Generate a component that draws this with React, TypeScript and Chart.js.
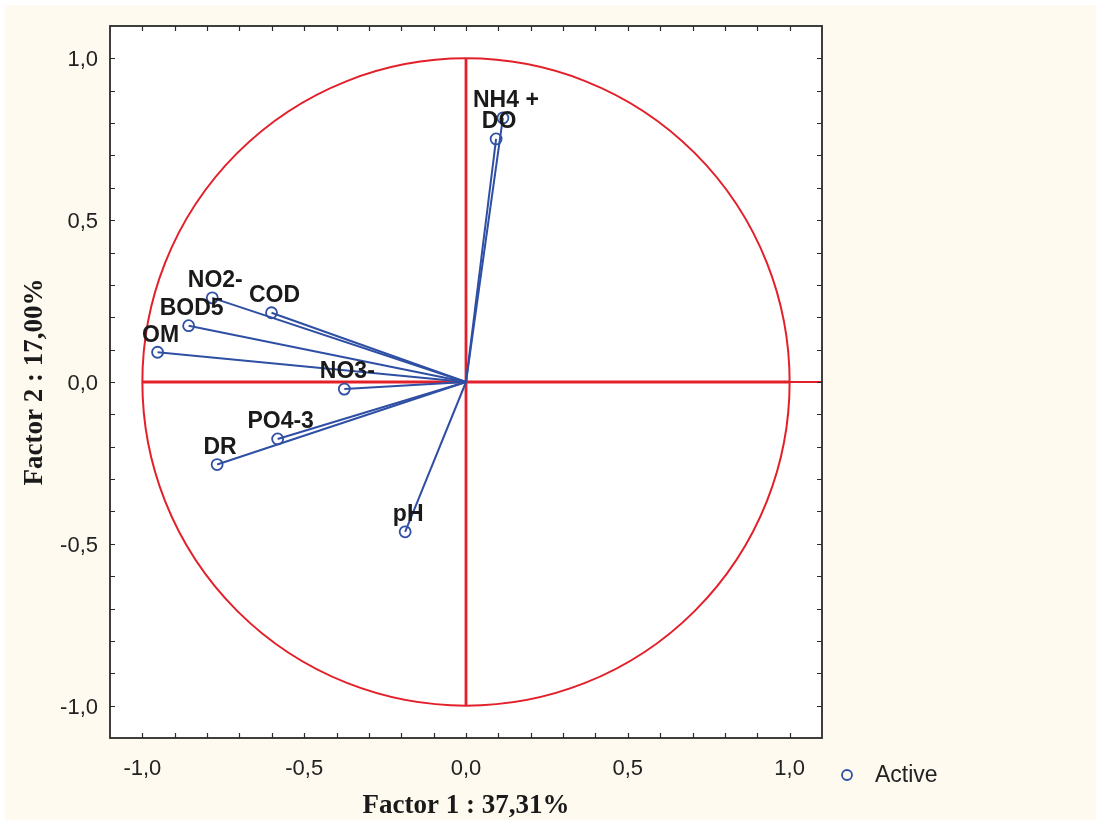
import React, { useEffect, useRef } from "react";
import { Chart, registerables } from "chart.js";

Chart.register(...registerables);

// Factor loadings of the variables on the first two factors
const VARIABLES = ["NH4 +", "DO", "pH", "NO2-", "COD", "BOD5", "OM", "NO3-", "PO4-3", "DR"];
const FACTOR1 = [0.114, 0.093, -0.188, -0.784, -0.601, -0.857, -0.953, -0.376, -0.582, -0.769];
const FACTOR2 = [0.816, 0.751, -0.463, 0.26, 0.214, 0.174, 0.092, -0.022, -0.176, -0.255];

const TICK_VALUES = [-1, -0.5, 0, 0.5, 1];
const AXIS_MIN = -1.1;
const AXIS_MAX = 1.1;
const MINOR_STEP = 0.1;

const X_TITLE = "Factor 1 : 37,31%";
const Y_TITLE = "Factor 2 : 17,00%";
const LEGEND_LABEL = "Active";

const BLUE = "#2F4FA5";
const RED = "#E3202A";
const FRAME = "#2a2a2a";
const CREAM = "#FFFAF0";
const SANS = "'Liberation Sans', Arial, sans-serif";
const SERIF = "'Liberation Serif', 'Times New Roman', serif";

const fmt = (v: number) => v.toFixed(1).replace(".", ",");

const decorPlugin = {
  id: "decor",
  beforeDraw(chart: any) {
    const { ctx, width, height, chartArea: a } = chart;
    ctx.save();
    ctx.fillStyle = "#ffffff";
    ctx.fillRect(0, 0, width, height);
    ctx.fillStyle = CREAM;
    ctx.fillRect(5, 5, width - 5, height - 5);
    ctx.fillStyle = "#ffffff";
    ctx.fillRect(a.left, a.top, a.right - a.left, a.bottom - a.top);
    ctx.restore();
  },
  beforeDatasetsDraw(chart: any) {
    const { ctx } = chart;
    const xs = chart.scales.x;
    const ys = chart.scales.y;
    const cx = xs.getPixelForValue(0);
    const cy = ys.getPixelForValue(0);
    const rx = xs.getPixelForValue(1) - cx;
    const ry = cy - ys.getPixelForValue(1);
    ctx.save();
    ctx.strokeStyle = RED;
    // unit correlation circle
    ctx.lineWidth = 2;
    ctx.beginPath();
    ctx.ellipse(cx, cy, rx, ry, 0, 0, Math.PI * 2);
    ctx.stroke();
    // horizontal axis line
    ctx.lineWidth = 2.8;
    ctx.beginPath();
    ctx.moveTo(xs.getPixelForValue(-1), cy);
    ctx.lineTo(xs.getPixelForValue(1), cy);
    ctx.stroke();
    ctx.lineWidth = 2;
    ctx.beginPath();
    ctx.moveTo(xs.getPixelForValue(1), cy);
    ctx.lineTo(xs.getPixelForValue(AXIS_MAX), cy);
    ctx.stroke();
    // vertical axis line
    ctx.lineWidth = 2.8;
    ctx.beginPath();
    ctx.moveTo(cx, ys.getPixelForValue(1));
    ctx.lineTo(cx, ys.getPixelForValue(-1));
    ctx.stroke();
    ctx.restore();
  },
  afterDatasetsDraw(chart: any) {
    const { ctx, chartArea: a } = chart;
    const xs = chart.scales.x;
    const ys = chart.scales.y;
    ctx.save();
    // variable labels
    ctx.fillStyle = "#1a1a1a";
    ctx.font = `bold 23px ${SANS}`;
    ctx.textAlign = "center";
    ctx.textBaseline = "middle";
    VARIABLES.forEach((name, i) => {
      const px = xs.getPixelForValue(FACTOR1[i]);
      const py = ys.getPixelForValue(FACTOR2[i]);
      ctx.fillText(name, px + 3, py - 17);
    });

    // frame
    ctx.strokeStyle = FRAME;
    ctx.lineWidth = 1.8;
    ctx.strokeRect(a.left, a.top, a.right - a.left, a.bottom - a.top);

    // inward minor ticks on all four sides
    ctx.lineWidth = 1.2;
    const n = Math.round((AXIS_MAX - AXIS_MIN) / MINOR_STEP);
    for (let k = 1; k < n; k++) {
      const v = AXIS_MIN + k * MINOR_STEP;
      const px = Math.round(xs.getPixelForValue(v)) + 0.5;
      const py = Math.round(ys.getPixelForValue(v)) + 0.5;
      ctx.beginPath();
      ctx.moveTo(px, a.top);
      ctx.lineTo(px, a.top + 5);
      ctx.moveTo(px, a.bottom);
      ctx.lineTo(px, a.bottom - 5);
      ctx.moveTo(a.left, py);
      ctx.lineTo(a.left + 5, py);
      ctx.moveTo(a.right, py);
      ctx.lineTo(a.right - 5, py);
      ctx.stroke();
    }

    // axis titles
    ctx.fillStyle = "#1a1a1a";
    ctx.font = `bold 27px ${SERIF}`;
    ctx.textAlign = "center";
    ctx.textBaseline = "alphabetic";
    ctx.fillText(X_TITLE, (a.left + a.right) / 2, 813);
    ctx.save();
    ctx.translate(42, (a.top + a.bottom) / 2);
    ctx.rotate(-Math.PI / 2);
    ctx.fillText(Y_TITLE, 0, 0);
    ctx.restore();

    // legend
    const lx = a.right + 25;
    const ly = a.bottom + 37;
    ctx.strokeStyle = BLUE;
    ctx.lineWidth = 1.8;
    ctx.beginPath();
    ctx.arc(lx, ly, 5, 0, Math.PI * 2);
    ctx.stroke();
    ctx.fillStyle = "#222";
    ctx.font = `23px ${SANS}`;
    ctx.textAlign = "left";
    ctx.textBaseline = "middle";
    ctx.fillText(LEGEND_LABEL, lx + 28, ly + 1);
    ctx.restore();
  },
};

export default function App() {
  const ref = useRef<HTMLCanvasElement | null>(null);

  useEffect(() => {
    if (!ref.current) return;
    const datasets = VARIABLES.map((name, i) => ({
      label: name,
      data: [
        { x: 0, y: 0 },
        { x: FACTOR1[i], y: FACTOR2[i] },
      ],
      showLine: true,
      borderColor: BLUE,
      borderWidth: 2,
      pointRadius: [0, 5.5],
      pointBorderWidth: 1.8,
      pointBorderColor: BLUE,
      pointBackgroundColor: "rgba(0,0,0,0)",
    }));

    const tickFont = { family: SANS, size: 22 };
    const chart = new Chart(ref.current, {
      type: "scatter",
      data: { datasets },
      options: {
        animation: false,
        responsive: false,
        devicePixelRatio: 1,
        layout: { padding: { top: 26, right: 274, left: 0, bottom: 0 } },
        plugins: { legend: { display: false }, tooltip: { enabled: false } },
        scales: {
          x: {
            type: "linear",
            min: AXIS_MIN,
            max: AXIS_MAX,
            grid: { display: false, drawTicks: false },
            border: { display: false },
            afterBuildTicks: (s: any) => {
              s.ticks = TICK_VALUES.map((v) => ({ value: v }));
            },
            afterFit: (s: any) => {
              s.height = 82;
            },
            ticks: {
              padding: 18,
              color: "#222",
              font: tickFont,
              maxRotation: 0,
              callback: (v: any) => fmt(Number(v)),
            },
          },
          y: {
            type: "linear",
            min: AXIS_MIN,
            max: AXIS_MAX,
            grid: { display: false, drawTicks: false },
            border: { display: false },
            afterBuildTicks: (s: any) => {
              s.ticks = TICK_VALUES.map((v) => ({ value: v }));
            },
            afterFit: (s: any) => {
              s.width = 110;
            },
            ticks: {
              padding: 12,
              labelOffset: 2,
              color: "#222",
              font: tickFont,
              callback: (v: any) => fmt(Number(v)),
            },
          },
        },
      },
      plugins: [decorPlugin],
    } as any);
    return () => chart.destroy();
  }, []);

  return (
    <div style={{ position: "absolute", left: 0, top: 0, width: 1096, height: 820 }}>
      <canvas ref={ref} width={1096} height={820} style={{ display: "block" }} />
    </div>
  );
}
